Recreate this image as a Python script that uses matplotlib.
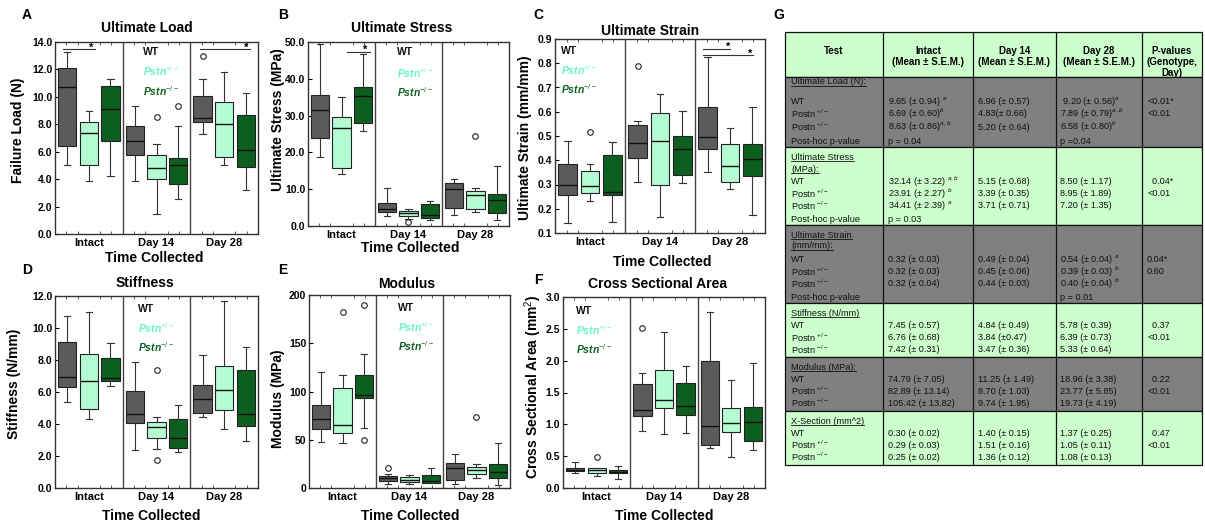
import matplotlib.pyplot as plt
from matplotlib.patches import Rectangle
from matplotlib.ticker import MultipleLocator, FormatStrFormatter

plt.rcParams["font.family"] = "Liberation Sans"
plt.rcParams["mathtext.fontset"] = "custom"
plt.rcParams["mathtext.rm"] = "Liberation Sans"
plt.rcParams["mathtext.it"] = "Liberation Sans:italic"
plt.rcParams["mathtext.bf"] = "Liberation Sans:bold"

W, H = 1205, 527

groups = ["Intact", "Day 14", "Day 28"]
legend_labels = ["WT", "Pstn$^{+/-}$", "Pstn$^{-/-}$"]
box_colors = ["#5b5b5b", "#b4fdd3", "#0c5f1f"]
text_colors = ["#111111", "#66f5c8", "#0c5f1f"]

# (low whisker, q1, median, q3, high whisker)
# order: Intact WT, +/-, -/-, Day 14 WT, +/-, -/-, Day 28 WT, +/-, -/-
load = [(5.05, 6.4, 10.7, 12.1, 13.3), (3.9, 5.0, 7.4, 8.15, 9.0), (4.2, 6.8, 9.1, 10.8, 11.3),
        (3.9, 5.75, 6.8, 7.85, 9.3), (1.45, 4.0, 4.8, 5.75, 6.55), (2.55, 3.65, 5.0, 5.55, 7.85),
        (7.3, 8.2, 8.45, 10.05, 11.3), (5.0, 5.65, 8.0, 9.6, 11.8), (3.2, 4.85, 6.15, 8.7, 10.3)]
load_out = [[], [], [], [], [8.55], [9.3], [13.0], [], []]

stress = [(18.8, 23.8, 31.5, 35.5, 49.5), (14.0, 15.8, 26.5, 29.6, 35.0), (25.9, 27.9, 35.3, 37.7, 46.8),
          (2.8, 3.9, 4.5, 6.3, 10.2), (1.9, 2.8, 3.5, 4.2, 4.6), (1.6, 2.1, 3.0, 6.0, 6.9),
          (2.9, 4.9, 10.0, 11.7, 12.9), (3.8, 4.5, 8.4, 9.4, 10.2), (1.6, 3.6, 7.1, 8.8, 16.3)]
stress_out = [[], [], [], [], [1.0], [], [], [24.5], []]

strain = [(0.14, 0.255, 0.30, 0.385, 0.48), (0.23, 0.265, 0.295, 0.355, 0.385), (0.145, 0.255, 0.27, 0.42, 0.475),
          (0.31, 0.41, 0.47, 0.545, 0.56), (0.165, 0.30, 0.48, 0.595, 0.675), (0.305, 0.34, 0.445, 0.50, 0.605),
          (0.35, 0.445, 0.495, 0.62, 0.825), (0.28, 0.31, 0.375, 0.465, 0.535), (0.175, 0.335, 0.405, 0.465, 0.62)]
strain_out = [[], [0.515], [], [0.79], [], [], [], [], []]

stiff = [(5.35, 6.3, 6.95, 9.1, 10.75), (4.3, 4.95, 6.7, 8.35, 11.0), (6.35, 6.7, 6.9, 8.1, 9.05),
         (2.35, 4.05, 4.65, 6.05, 7.9), (2.45, 3.15, 3.8, 4.1, 4.45), (2.25, 2.5, 3.15, 4.3, 5.2),
         (4.45, 4.7, 5.55, 6.45, 8.3), (3.7, 4.85, 6.1, 7.6, 11.7), (2.95, 3.85, 4.65, 7.35, 8.8)]
stiff_out = [[], [], [], [], [7.35, 1.75], [], [], [], []]

modulus = [(48, 61, 72, 86, 120), (47, 57, 65, 104, 117), (62, 93, 96, 117, 139),
           (4, 7, 10, 12, 14), (4, 6, 8, 11, 13), (5, 5, 7, 13, 21),
           (4, 8, 21, 26, 35), (10, 14, 19, 22, 25), (3, 10, 17, 25, 47)]
modulus_out = [[], [182], [190, 50], [21], [], [], [], [74], []]

area = [(0.23, 0.26, 0.28, 0.31, 0.41), (0.19, 0.24, 0.29, 0.31, 0.32), (0.14, 0.23, 0.25, 0.28, 0.34),
        (0.89, 1.13, 1.23, 1.63, 1.81), (0.85, 1.25, 1.38, 1.85, 2.45), (0.87, 1.15, 1.29, 1.65, 1.91),
        (0.63, 0.67, 0.98, 2.0, 2.76), (0.48, 0.88, 1.02, 1.25, 1.70), (0.60, 0.74, 1.04, 1.28, 1.96)]
area_out = [[], [0.49], [], [2.52], [], [], [], [], []]

# significance bars: (x start, x end, y, star x)
load_sig = [(0.62, 1.09, 13.47, 1.03), (2.64, 3.38, 13.5, 3.32)]
stress_sig = [(1.08, 1.43, 47.4, 1.36)]
strain_sig = [(2.62, 3.0, 0.86, 2.97), (2.62, 3.33, 0.835, 3.29)]

fig = plt.figure(figsize=(W / 100, H / 100), dpi=100)
tax = fig.add_axes([0, 0, 1, 1])
tax.set_xlim(0, W)
tax.set_ylim(H, 0)
tax.axis("off")


def fig_rect(l, t, r, b):
    return [l / W, 1 - b / H, (r - l) / W, (b - t) / H]


def panel(rect, stats, out, ylim, ystep, fmt, leg_x, leg_y, sig=()):
    ax = fig.add_axes(fig_rect(*rect))
    offs = [-0.32, 0, 0.32]
    bx, pos = [], []
    for i, (s, f) in enumerate(zip(stats, out)):
        lo, q1, med, q3, hi = s
        bx.append(dict(whislo=lo, q1=q1, med=med, q3=q3, whishi=hi, fliers=f))
        pos.append(i // 3 + 1 + offs[i % 3])
    art = ax.bxp(bx, positions=pos, widths=0.27, capwidths=0.09, patch_artist=True,
                 boxprops=dict(edgecolor="#222222", linewidth=0.8),
                 medianprops=dict(color="#111111", linewidth=1.0),
                 whiskerprops=dict(color="#333333", linewidth=0.8),
                 capprops=dict(color="#333333", linewidth=0.8),
                 flierprops=dict(marker="o", markerfacecolor="none", markeredgecolor="#222222",
                                 markersize=4, markeredgewidth=0.8))
    for k, b in enumerate(art["boxes"]):
        b.set_facecolor(box_colors[k % 3])
    for x in (1.5, 2.5):
        ax.axvline(x, color="#444444", lw=1)
    ax.set_xlim(0.5, 3.5)
    ax.set_ylim(*ylim)
    ax.set_xticks([1, 2, 3])
    ax.set_xticklabels(groups, fontsize=8, fontweight="bold")
    ax.xaxis.set_minor_locator(MultipleLocator(1 / 6))
    ax.tick_params(axis="x", which="major", length=0, pad=3)
    ax.tick_params(axis="x", which="minor", direction="in", top=True, bottom=True,
                   length=2.5, color="#444444")
    ax.yaxis.set_major_locator(MultipleLocator(ystep))
    ax.yaxis.set_major_formatter(FormatStrFormatter(fmt))
    ax.tick_params(axis="y", direction="in", length=3, labelsize=7.5, pad=2)
    for t in ax.get_yticklabels():
        t.set_fontweight("bold")
    for sp in ax.spines.values():
        sp.set_color("#333333")
        sp.set_linewidth(1)
    tr = ax.get_xaxis_transform()
    for k, (lbl, c, yy) in enumerate(zip(legend_labels, text_colors, leg_y)):
        ax.text(leg_x, yy, lbl, transform=tr, color=c, fontsize=7.5, fontweight="bold",
                style="normal" if k == 0 else "italic", va="center", ha="left")
    for x1, x2, y, xs in sig:
        ax.plot([x1, x2], [y, y], color="#333333", lw=0.8)
        ax.annotate("*", (xs, y), xytext=(0, 1), textcoords="offset points",
                    ha="center", va="center", fontsize=8, fontweight="bold")
    return ax


panel((55, 42, 258, 234), load, load_out, (0, 14), 2, "%.1f", 1.80, (0.948, 0.849, 0.745), load_sig)
panel((308, 42, 509, 226), stress, stress_out, (0, 50), 10, "%.1f", 1.83, (0.946, 0.832, 0.728), stress_sig)
panel((555, 39, 765, 233), strain, strain_out, (0.1, 0.9), 0.1, "%.1f", 0.59, (0.938, 0.840, 0.742), strain_sig)
panel((55, 296, 258, 488), stiff, stiff_out, (0, 12), 2, "%.1f", 1.73, (0.932, 0.833, 0.734))
panel((309, 295, 510, 488), modulus, modulus_out, (0, 200), 50, "%d", 1.83, (0.933, 0.833, 0.734))
panel((563, 297, 765, 488), area, area_out, (0, 3), 0.5, "%.1f", 0.69, (0.927, 0.827, 0.728))

# panel letters, titles, axis labels (pixel positions)
for s, x, y in [("A", 27, 15), ("B", 283, 15), ("C", 538, 15), ("D", 27, 270), ("E", 283, 270),
                ("F", 538, 280), ("G", 779, 15)]:
    tax.text(x, y, s, fontsize=10, fontweight="bold", ha="center", va="center")
for s, x, y in [("Ultimate Load", 147, 28), ("Ultimate Stress", 402, 28), ("Ultimate Strain", 650, 31),
                ("Stiffness", 145, 283), ("Modulus", 407, 284), ("Cross Sectional Area", 657, 284)]:
    tax.text(x, y, s, fontsize=10, fontweight="bold", ha="center", va="center")
for x, y in [(154, 258), (410, 248), (662, 262), (151, 516), (410, 516), (664, 516)]:
    tax.text(x, y, "Time Collected", fontsize=10, fontweight="bold", ha="center", va="center")
for s, x, y in [("Failure Load (N)", 18, 130), ("Ultimate Stress (MPa)", 278, 120),
                ("Ultimate Strain (mm/mm)", 525, 138), ("Stiffness (N/mm)", 14, 384),
                ("Modulus (MPa)", 278, 399), ("Cross Sectional Area (mm$^{2}$)", 533, 387)]:
    tax.text(x, y, s, fontsize=10, fontweight="bold", ha="center", va="center", rotation=90)

# ---- table G ----
col_edges = [785, 883, 973, 1056, 1142, 1202]
row_edges = [32, 77, 147, 225, 303, 357, 411, 465]
green, grey = "#ccffcc", "#808080"
row_colors = [green, grey, green, grey, green, grey, green]

header_lines = [["Test"], ["Intact", "(Mean ± S.E.M.)"], ["Day 14", "(Mean ± S.E.M.)"],
                ["Day 28", "(Mean ± S.E.M.)"], ["P-values", "(Genotype,", "Day)"]]
header_y = [51, 62, 73]

test_names = [["Ultimate Load (N):"], ["Ultimate Stress", "(MPa):"], ["Ultimate Strain", "(mm/mm):"],
              ["Stiffness (N/mm)"], ["Modulus (MPa):"], ["X-Section (mm^2)"]]
name_y = [[82], [157, 169], [235, 246], [313], [367], [421]]
line_y = [[101, 114, 127, 141], [182, 194, 206, 219], [260, 272, 284, 297],
          [326, 338, 350], [379, 391, 403], [433, 445, 457]]
row_labels = ["WT", "Postn $^{+/-}$", "Postn $^{-/-}$", "Post-hoc p-value"]

intact_vals = [["9.65 (± 0.94) $^{a}$", "6.69 (± 0.60)$^{b}$", "8.63 (± 0.86)$^{a,b}$", "p = 0.04"],
               ["32.14 (± 3.22) $^{a,b}$", "23.91 (± 2.27) $^{b}$", "34.41 (± 2.39) $^{a}$", "p = 0.03"],
               ["0.32 (± 0.03)", "0.32 (± 0.03)", "0.32 (± 0.04)", ""],
               ["7.45 (± 0.57)", "6.76 (± 0.68)", "7.42 (± 0.31)"],
               ["74.79 (± 7.05)", "82.89 (± 13.14)", "105.42 (± 13.82)"],
               ["0.30 (± 0.02)", "0.29 (± 0.03)", "0.25 (± 0.02)"]]
day14_vals = [["6.96 (± 0.57)", "4.83(± 0.66)", "5.20 (± 0.64)", ""],
              ["5.15 (± 0.68)", "3.39 (± 0.35)", "3.71 (± 0.71)", ""],
              ["0.49 (± 0.04)", "0.45 (± 0.06)", "0.44 (± 0.03)", ""],
              ["4.84 (± 0.49)", "3.84 (±0.47)", "3.47 (± 0.36)"],
              ["11.25 (± 1.49)", "8.70 (± 1.03)", "9.74 (± 1.95)"],
              ["1.40 (± 0.15)", "1.51 (± 0.16)", "1.36 (± 0.12)"]]
day28_vals = [[" 9.20 (± 0.56)$^{a}$", "7.89 (± 0.79)$^{a,b}$", "6.58 (± 0.80)$^{b}$", "p =0.04"],
              ["8.50 (± 1.17)", "8.95 (± 1.89)", "7.20 (± 1.35)", ""],
              ["0.54 (± 0.04) $^{a}$", "0.39 (± 0.03) $^{b}$", "0.40 (± 0.04) $^{b}$", "p = 0.01"],
              ["5.78 (± 0.39)", "6.39 (± 0.73)", "5.33 (± 0.64)"],
              ["18.96 (± 3.38)", "23.77 (± 5.85)", "19.73 (± 4.19)"],
              ["1.37 (± 0.25)", "1.05 (± 0.11)", "1.08 (± 0.13)"]]
p_vals = [["<0.01*", "<0.01"], ["  0.04*", "<0.01"], ["0.04*", "0.60"],
          ["  0.37", "<0.01"], ["  0.22", "<0.01"], ["  0.47", "<0.01"]]

for i in range(len(row_edges) - 1):
    tax.add_patch(Rectangle((col_edges[0], row_edges[i]), col_edges[-1] - col_edges[0],
                            row_edges[i + 1] - row_edges[i], facecolor=row_colors[i],
                            edgecolor="#111111", lw=0.9))
for x in col_edges[1:-1]:
    tax.plot([x, x], [row_edges[0], row_edges[-1]], color="#111111", lw=0.9)

for j, lines in enumerate(header_lines):
    cx = (col_edges[j] + col_edges[j + 1]) / 2
    for k, s in enumerate(lines):
        tax.text(cx, header_y[k], s, fontsize=7, fontweight="bold", ha="center", va="center")

fs = 6.6
name_texts = []
text_x = [791, 888, 978, 1060, 1147]
for i in range(len(test_names)):
    for s, y in zip(test_names[i], name_y[i]):
        name_texts.append(tax.text(text_x[0], y, s, fontsize=fs, ha="left", va="center", color="#111111"))
    for k, y in enumerate(line_y[i]):
        tax.text(text_x[0], y, row_labels[k], fontsize=fs, ha="left", va="center", color="#111111")
        for col, vals in zip(text_x[1:4], (intact_vals[i], day14_vals[i], day28_vals[i])):
            if k < len(vals) and vals[k]:
                tax.text(col, y, vals[k], fontsize=fs, ha="left", va="center", color="#111111")
        if k < len(p_vals[i]):
            tax.text(text_x[4], y, p_vals[i][k], fontsize=fs, ha="left", va="center", color="#111111")

# underline the test names
fig.canvas.draw()
renderer = fig.canvas.get_renderer()
inv = tax.transData.inverted()
for t in name_texts:
    bb = t.get_window_extent(renderer)
    (x0, y0), (x1, _) = inv.transform([(bb.x0, bb.y0), (bb.x1, bb.y1)])
    tax.plot([x0, x1], [y0 - 0.8, y0 - 0.8], color="#111111", lw=0.6)

fig.savefig("out.png", dpi=100)
